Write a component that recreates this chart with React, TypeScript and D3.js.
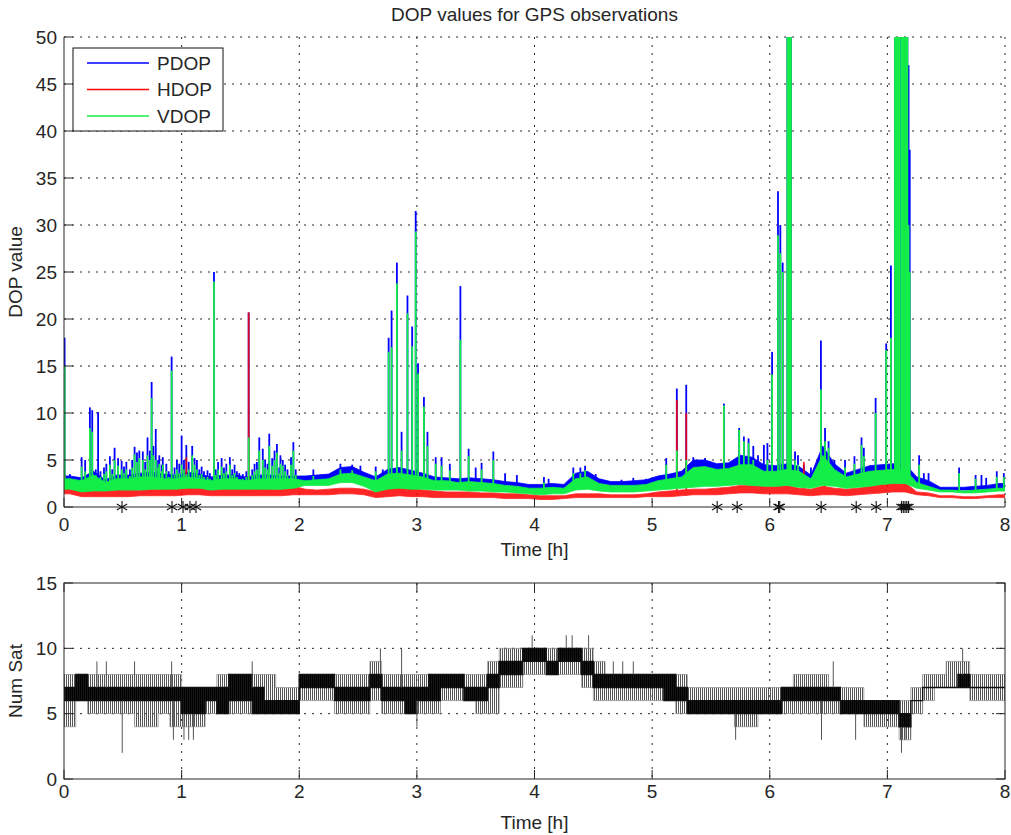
import React from 'react'
import * as d3 from 'd3'

// time axis [h] and tick values
const hourTicks = [0, 1, 2, 3, 4, 5, 6, 7, 8]
const dopTicks = [0, 5, 10, 15, 20, 25, 30, 35, 40, 45, 50]
const satTicks = [0, 5, 10, 15]
const binWidth = 0.1 // hours per band bin

// DOP bands, one value per 0.1 h bin (dense noise envelope)
const hdopLo = [
  1.4, 1.1, 1.1, 1.1, 1.1, 1.1, 1.2, 1.2, 1.2, 1.2,
  1.3, 1.3, 1.2, 1.2, 1.2, 1.2, 1.2, 1.2, 1.2, 1.3,
  1.3, 1.3, 1.3, 1.4, 1.4, 1.3, 1.0, 1.1, 1.2, 1.1,
  1.1, 1.0, 1.0, 1.0, 1.0, 1.0, 1.0, 0.9, 0.9, 0.9,
  0.8, 0.8, 0.9, 1.0, 1.0, 1.0, 1.0, 1.0, 1.0, 1.1,
  1.1, 1.1, 1.2, 1.3, 1.3, 1.3, 1.4, 1.5, 1.5, 1.4,
  1.4, 1.4, 1.3, 1.2, 1.3, 1.3, 1.2, 1.3, 1.4, 1.5,
  1.6, 1.6, 1.3, 1.2, 1.0, 1.0, 0.9, 0.9, 1.0, 1.0,
]
const hdopHi = [
  2.5, 1.7, 1.8, 1.7, 1.8, 1.8, 1.9, 1.9, 1.9, 2.0,
  2.2, 2.2, 2.0, 2.0, 2.0, 1.9, 2.0, 1.9, 1.9, 2.2,
  1.9, 1.8, 1.9, 2.0, 2.0, 1.9, 1.6, 2.0, 2.2, 2.0,
  1.8, 1.7, 1.6, 1.6, 1.6, 1.5, 1.5, 1.4, 1.4, 1.3,
  1.2, 1.2, 1.2, 1.4, 1.4, 1.4, 1.3, 1.3, 1.3, 1.4,
  1.6, 1.7, 1.8, 1.9, 1.9, 2.0, 2.1, 2.3, 2.3, 2.2,
  2.2, 2.3, 2.0, 1.9, 2.2, 2.0, 1.9, 2.0, 2.2, 2.4,
  2.6, 2.6, 1.6, 1.5, 1.2, 1.2, 1.1, 1.1, 1.2, 1.3,
]
const vdopLo = [
  1.9, 1.6, 1.7, 1.7, 1.8, 1.8, 1.8, 1.9, 1.9, 1.9,
  2.0, 2.0, 1.8, 1.9, 1.9, 1.9, 1.9, 1.9, 1.9, 2.0,
  2.3, 2.3, 2.3, 2.6, 2.6, 2.2, 1.6, 1.9, 2.0, 1.9,
  1.9, 1.8, 1.8, 1.8, 1.7, 1.7, 1.6, 1.6, 1.5, 1.4,
  1.3, 1.4, 1.4, 1.8, 1.9, 1.7, 1.6, 1.6, 1.6, 1.7,
  1.8, 1.9, 2.0, 2.1, 2.2, 2.2, 2.3, 2.4, 2.3, 2.2,
  2.2, 2.3, 2.1, 2.0, 2.3, 2.2, 2.0, 2.1, 2.2, 2.4,
  2.5, 2.5, 2.0, 1.8, 1.6, 1.6, 1.5, 1.5, 1.6, 1.7,
]
const vdopHi = [
  3.0, 2.8, 3.4, 2.6, 3.0, 3.0, 3.2, 3.2, 3.0, 3.0,
  3.2, 3.0, 2.8, 3.0, 3.0, 2.8, 3.0, 3.0, 3.0, 3.0,
  2.8, 2.9, 3.0, 3.5, 3.6, 3.2, 2.8, 3.5, 3.6, 3.4,
  3.2, 2.8, 2.8, 2.6, 2.7, 2.6, 2.5, 2.3, 2.2, 2.0,
  2.0, 2.1, 2.0, 3.0, 3.2, 2.5, 2.3, 2.3, 2.3, 2.4,
  2.8, 3.0, 3.2, 4.2, 4.3, 4.0, 4.1, 4.5, 4.5, 3.8,
  3.8, 4.0, 3.8, 3.0, 5.5, 4.0, 3.2, 3.5, 3.8, 3.9,
  4.0, 4.0, 2.6, 2.2, 1.8, 1.8, 1.7, 1.8, 1.9, 2.0,
]
const pdopLo = [
  2.1, 1.8, 1.9, 1.9, 2.0, 2.0, 2.0, 2.1, 2.1, 2.1,
  2.2, 2.2, 2.0, 2.1, 2.1, 2.1, 2.1, 2.1, 2.1, 2.2,
  2.5, 2.5, 2.5, 2.8, 2.8, 2.4, 1.8, 2.1, 2.2, 2.1,
  2.1, 2.0, 2.0, 2.0, 1.9, 1.9, 1.8, 1.8, 1.7, 1.6,
  1.5, 1.6, 1.6, 2.0, 2.1, 1.9, 1.8, 1.8, 1.8, 1.9,
  2.0, 2.1, 2.2, 2.3, 2.4, 2.4, 2.5, 2.6, 2.5, 2.4,
  2.4, 2.5, 2.3, 2.2, 2.5, 2.4, 2.2, 2.3, 2.4, 2.6,
  2.7, 2.7, 2.2, 2.0, 1.8, 1.8, 1.8, 1.8, 1.9, 2.0,
]
const pdopHi = [
  3.3, 3.1, 3.8, 2.9, 3.4, 3.4, 3.6, 3.7, 3.5, 3.4,
  3.7, 3.5, 3.2, 3.4, 3.4, 3.2, 3.4, 3.4, 3.3, 3.3,
  3.3, 3.4, 3.5, 4.2, 4.3, 3.7, 3.2, 4.0, 4.2, 3.9,
  3.6, 3.2, 3.1, 3.0, 3.1, 3.0, 2.9, 2.7, 2.6, 2.4,
  2.4, 2.5, 2.4, 3.6, 3.8, 3.0, 2.7, 2.7, 2.8, 2.9,
  3.3, 3.5, 3.8, 5.0, 5.0, 4.6, 4.7, 5.5, 5.3, 4.5,
  4.4, 4.6, 4.3, 3.4, 6.5, 4.6, 3.6, 4.0, 4.4, 4.5,
  4.6, 4.6, 3.2, 2.8, 2.1, 2.1, 2.1, 2.2, 2.3, 2.5,
]

// single-epoch spikes [time h, peak value]; values above 50 are clipped
const pdopSpikes = [
  [0.005, 18], [0.05, 3.5], [0.08, 3.2], [0.15, 5.3], [0.18, 5.0], [0.22, 10.6], [0.24, 10.3],
  [0.27, 4.0], [0.29, 10.1], [0.31, 3.8], [0.34, 4.2], [0.36, 4.6], [0.39, 5.4], [0.41, 4.0],
  [0.43, 6.3], [0.46, 5.2], [0.49, 4.9], [0.51, 4.3], [0.53, 4.8], [0.56, 4.0], [0.58, 5.0],
  [0.6, 6.4], [0.62, 5.8], [0.64, 6.0], [0.67, 5.9], [0.69, 4.8], [0.71, 7.4], [0.73, 6.0],
  [0.745, 13.3], [0.76, 6.5], [0.78, 8.3], [0.8, 5.0], [0.81, 5.5], [0.83, 4.5], [0.84, 5.3],
  [0.87, 4.6], [0.89, 3.8], [0.915, 16.0], [0.94, 4.2], [0.96, 5.0], [0.98, 4.6], [1.0, 7.6],
  [1.02, 5.0], [1.04, 6.6], [1.06, 4.8], [1.09, 6.5], [1.11, 5.2], [1.13, 5.0], [1.15, 4.0],
  [1.17, 4.3], [1.19, 3.8], [1.22, 3.9], [1.24, 3.6], [1.275, 25.0], [1.29, 4.0], [1.31, 4.8],
  [1.34, 5.2], [1.36, 4.2], [1.38, 4.6], [1.41, 5.3], [1.43, 4.0], [1.45, 4.5], [1.47, 3.8],
  [1.49, 3.6], [1.52, 3.5], [1.55, 3.8], [1.57, 20.7], [1.6, 4.0], [1.62, 4.6], [1.64, 4.8],
  [1.66, 7.4], [1.69, 6.2], [1.71, 5.0], [1.73, 4.6], [1.745, 7.8], [1.77, 5.2], [1.79, 6.0],
  [1.81, 6.7], [1.83, 4.2], [1.84, 5.5], [1.86, 5.0], [1.88, 4.5], [1.9, 4.0], [1.93, 5.3],
  [1.95, 6.9], [1.97, 4.0], [2.12, 4.0], [2.35, 4.6], [2.45, 4.5],
  [2.52, 4.4], [2.65, 4.3], [2.71, 4.0], [2.76, 18.0], [2.785, 20.9], [2.83, 26.0], [2.87, 8.0],
  [2.92, 22.5], [2.96, 19.2], [2.99, 31.5], [3.01, 15.3], [3.06, 11.7], [3.09, 8.0], [3.16, 5.3],
  [3.21, 5.3], [3.28, 4.6], [3.37, 23.5], [3.44, 6.2], [3.5, 4.2], [3.55, 4.7], [3.65, 5.9],
  [3.75, 3.6], [3.85, 3.4], [4.08, 3.2], [4.12, 3.0], [4.33, 4.2], [4.39, 4.2], [4.43, 4.4],
  [4.52, 3.5], [4.74, 2.9], [4.84, 3.1], [4.95, 3.0], [5.12, 5.2], [5.21, 12.6], [5.29, 13.0],
  [5.35, 5.3], [5.45, 5.2], [5.61, 11.0], [5.74, 8.4], [5.78, 7.5], [5.82, 7.3], [5.86, 6.5],
  [5.9, 5.5], [5.95, 6.6], [5.98, 6.8], [6.02, 16.5], [6.07, 33.6], [6.09, 30], [6.11, 26],
  [6.15, 55], [6.16, 55], [6.17, 55], [6.18, 55], [6.215, 5.9], [6.24, 5.5], [6.29, 4.5],
  [6.35, 4.2], [6.435, 17.7], [6.47, 8.4], [6.5, 7.0], [6.55, 5.0], [6.64, 5.0], [6.72, 5.4],
  [6.78, 7.4], [6.8, 6.3], [6.9, 11.6], [6.99, 17.4], [7.03, 25.7], [7.065, 55], [7.075, 55],
  [7.085, 55], [7.095, 55], [7.105, 55], [7.12, 55], [7.13, 55], [7.14, 55], [7.15, 55],
  [7.16, 55], [7.17, 55], [7.18, 47], [7.19, 38], [7.27, 5.5], [7.31, 3.6], [7.35, 3.6],
  [7.61, 4.2], [7.75, 3.4], [7.8, 3.4], [7.84, 3.1], [7.93, 3.8], [7.99, 3.6],
]
const hdopSpikes = [
  [0.005, 3.5], [1.04, 5.3], [1.57, 20.7], [5.21, 11.4], [5.29, 10.0], [6.29, 4.8], [6.47, 5.4],
]
const vdopSpikes = [
  [0.005, 15], [0.05, 3.0], [0.08, 2.9], [0.15, 4.3], [0.18, 3.8], [0.22, 8.4], [0.24, 8.0],
  [0.27, 3.4], [0.29, 3.0], [0.31, 3.2], [0.34, 3.5], [0.36, 3.8], [0.39, 4.5], [0.41, 3.5],
  [0.43, 5.0], [0.46, 4.4], [0.49, 4.0], [0.51, 3.6], [0.53, 4.0], [0.56, 3.3], [0.58, 4.2],
  [0.6, 5.6], [0.62, 4.8], [0.64, 5.2], [0.67, 5.0], [0.69, 4.0], [0.71, 5.5], [0.73, 5.0],
  [0.745, 11.6], [0.76, 5.5], [0.78, 5.0], [0.8, 4.2], [0.81, 4.6], [0.83, 3.8], [0.84, 4.5],
  [0.87, 3.8], [0.89, 3.2], [0.915, 14.5], [0.94, 3.5], [0.96, 4.0], [0.98, 3.6], [1.0, 4.5],
  [1.02, 4.0], [1.04, 3.5], [1.06, 4.0], [1.09, 5.5], [1.11, 4.5], [1.13, 4.0], [1.15, 3.4],
  [1.17, 3.5], [1.19, 3.2], [1.22, 3.2], [1.24, 3.0], [1.275, 24.0], [1.29, 3.4], [1.31, 4.0],
  [1.34, 4.3], [1.36, 3.6], [1.38, 3.8], [1.41, 4.5], [1.43, 3.4], [1.45, 3.6], [1.47, 3.2],
  [1.52, 3.0], [1.55, 3.2], [1.57, 7.4], [1.6, 3.4], [1.62, 3.8], [1.64, 4.0], [1.66, 6.0],
  [1.69, 5.0], [1.71, 4.2], [1.73, 4.0], [1.745, 6.5], [1.77, 4.4], [1.79, 5.0], [1.81, 5.8],
  [1.83, 3.6], [1.84, 4.6], [1.86, 4.4], [1.88, 3.8], [1.9, 3.4], [1.93, 4.5], [1.95, 6.0],
  [1.97, 3.4], [2.12, 3.3], [2.35, 4.0], [2.45, 3.9], [2.65, 3.8],
  [2.76, 16.5], [2.785, 17.0], [2.83, 23.8], [2.87, 6.0], [2.92, 20.6], [2.96, 17.1],
  [2.99, 29.3], [3.01, 14.2], [3.06, 10.7], [3.09, 6.5], [3.16, 4.6], [3.21, 4.4], [3.28, 3.9],
  [3.37, 17.8], [3.44, 5.4], [3.55, 4.0], [3.65, 5.0], [4.08, 2.6], [4.33, 3.6], [4.39, 3.6],
  [4.43, 3.9], [5.12, 4.5], [5.21, 6.0], [5.29, 5.0], [5.61, 10.8], [5.74, 8.2], [5.78, 7.0],
  [5.82, 6.8], [5.86, 5.0], [5.98, 5.0], [6.02, 14.1], [6.07, 28.9], [6.09, 27], [6.11, 25],
  [6.15, 55], [6.16, 55], [6.17, 55], [6.18, 55], [6.215, 5.0], [6.24, 4.5], [6.435, 12.5],
  [6.47, 7.0], [6.5, 6.3], [6.64, 4.2], [6.72, 4.6], [6.78, 6.6], [6.8, 5.4], [6.9, 10.0],
  [6.99, 16.7], [7.03, 18], [7.065, 55], [7.075, 55], [7.085, 55], [7.095, 55], [7.105, 55],
  [7.12, 55], [7.13, 55], [7.14, 55], [7.15, 55], [7.16, 55], [7.17, 55], [7.18, 30],
  [7.19, 25], [7.27, 4.5], [7.61, 3.6], [7.75, 3.0], [7.93, 3.2], [7.99, 3.2],
]

// epochs flagged with * on the time axis
const flagTimes = [
  0.493, 0.918, 1.012, 1.071, 1.122, 5.553, 5.723, 6.075, 6.085, 6.437, 6.735, 6.905,
  7.12, 7.135, 7.15, 7.165, 7.18,
]

// number of satellites per 0.1 h bin: full range and dense core
const satLo = [
  4, 6, 5, 5, 5, 5, 4, 4, 5, 4,
  4, 4, 5, 5, 5, 5, 5, 5, 5, 5,
  6, 6, 6, 5, 5, 5, 6, 5, 5, 5,
  5, 5, 6, 6, 6, 5, 5, 7, 7, 8,
  8, 8, 8, 8, 7, 6, 6, 6, 6, 6,
  6, 6, 5, 5, 5, 5, 5, 4, 4, 5,
  5, 5, 5, 5, 5, 5, 5, 5, 4, 4,
  4, 3, 5, 6, 7, 7, 7, 6, 6, 6,
]
const satHi = [
  8, 8, 8, 8, 8, 8, 8, 8, 8, 8,
  7, 7, 7, 8, 8, 8, 8, 8, 7, 7,
  8, 8, 8, 8, 8, 8, 9, 8, 8, 8,
  8, 8, 8, 8, 8, 8, 9, 10, 10, 10,
  10, 10, 10, 10, 10, 9, 8, 8, 8, 8,
  8, 8, 8, 7, 7, 7, 7, 7, 7, 7,
  7, 7, 8, 8, 8, 7, 7, 7, 6, 6,
  6, 6, 7, 8, 8, 9, 9, 8, 8, 8,
]
const satCoreLo = [
  6, 6, 6, 6, 6, 6, 6, 6, 6, 6,
  5, 5, 6, 5, 6, 6, 5, 5, 5, 5,
  7, 7, 7, 6, 6, 6, 7, 6, 6, 5,
  6, 6, 7, 7, 6, 6, 7, 8, 8, 9,
  9, 8, 9, 9, 8, 7, 7, 7, 7, 7,
  7, 6, 6, 5, 5, 5, 5, 5, 5, 5,
  5, 6, 6, 6, 6, 6, 5, 5, 5, 5,
  5, 4, 6, 7, 7, 7, 7, 7, 7, 7,
]
const satCoreHi = [
  7, 8, 7, 7, 7, 7, 7, 7, 7, 7,
  7, 7, 7, 7, 8, 8, 7, 6, 6, 6,
  8, 8, 8, 7, 7, 7, 8, 7, 7, 7,
  7, 8, 8, 8, 7, 7, 8, 9, 9, 10,
  10, 9, 10, 10, 9, 8, 8, 8, 8, 8,
  8, 8, 7, 6, 6, 6, 6, 6, 6, 6,
  6, 7, 7, 7, 7, 7, 6, 6, 6, 6,
  6, 5, 6, 7, 7, 7, 8, 7, 7, 7,
]
const satSpikes = [
  [0.28, 9], [0.36, 9], [0.495, 2], [0.6, 9], [0.915, 9], [0.93, 3], [1.02, 3], [1.06, 3],
  [1.1, 3], [1.6, 9], [2.69, 10], [2.87, 10], [3.0, 4], [3.98, 11], [4.27, 11], [4.32, 11],
  [4.46, 11], [4.67, 9], [4.75, 9], [4.84, 9], [5.71, 3], [6.44, 3], [6.54, 9], [6.73, 3],
  [7.12, 2], [7.15, 3], [7.64, 10],
]

const series = [
  { name: 'PDOP', color: '#0000ff', lo: pdopLo, hi: pdopHi, spikes: pdopSpikes, op: 1 },
  { name: 'HDOP', color: '#ff0000', lo: hdopLo, hi: hdopHi, spikes: hdopSpikes, op: 0.85 },
  { name: 'VDOP', color: '#14ee48', lo: vdopLo, hi: vdopHi, spikes: vdopSpikes, op: 1 },
]

const font = '"Liberation Sans", Arial, Helvetica, sans-serif'
const ink = '#262626'

export default function App() {
  const left = 64, right = 1005
  const top1 = 37, bot1 = 507
  const top2 = 583, bot2 = 779
  const x = d3.scaleLinear().domain([0, 8]).range([left, right])
  const yDop = d3.scaleLinear().domain([0, 50]).range([bot1, top1])
  const ySat = d3.scaleLinear().domain([0, 15]).range([bot2, top2])
  const binOf = (t: number) => Math.min(hdopLo.length - 1, Math.floor(t / binWidth))

  const bandPts = (lo: number[], hi: number[]) => [
    { t: 0, lo: lo[0], hi: hi[0] },
    ...lo.map((v, i) => ({ t: (i + 0.5) * binWidth, lo: v, hi: hi[i] })),
    { t: 8, lo: lo[lo.length - 1], hi: hi[hi.length - 1] },
  ]
  const dopArea = d3.area<any>().x(d => x(d.t)).y0(d => yDop(d.lo)).y1(d => yDop(d.hi))

  const stepPts = (lo: number[], hi: number[]) => [
    ...lo.map((v, i) => ({ t: i * binWidth, lo: v, hi: hi[i] })),
    { t: 8, lo: lo[lo.length - 1], hi: hi[hi.length - 1] },
  ]
  const satArea = d3.area<any>().curve(d3.curveStepAfter)
    .x(d => x(d.t)).y0(d => ySat(d.lo)).y1(d => ySat(d.hi))

  const star = d3.symbol(d3.symbolAsterisk, 100)()
  const grid = { stroke: ink, strokeWidth: 1, strokeDasharray: '2,6' }
  const tickLen = 9

  return (
    <svg width={1011} height={835} style={{ position: 'absolute', left: 0, top: 0, background: '#fff' }}
      fontFamily={font}>
      <defs>
        <clipPath id="clipDop"><rect x={left} y={top1} width={right - left} height={bot1 - top1} /></clipPath>
        <clipPath id="clipSat"><rect x={left} y={top2} width={right - left} height={bot2 - top2} /></clipPath>
        <pattern id="vhatch" width={2} height={10} patternUnits="userSpaceOnUse">
          <rect x={0} y={0} width={1} height={10} fill="#555" />
        </pattern>
        <pattern id="vcore" width={2} height={10} patternUnits="userSpaceOnUse">
          <rect x={0} y={0} width={2} height={10} fill="#222" />
          <rect x={0} y={0} width={1.4} height={10} fill="#000" />
        </pattern>
      </defs>

      <text x={(left + right) / 2} y={14} textAnchor="middle" dominantBaseline="central" fontSize={19} fill={ink}>
        DOP values for GPS observations
      </text>

      {/* top panel grid */}
      {hourTicks.slice(1).map(h => (
        <line key={'gx' + h} x1={x(h)} x2={x(h)} y1={top1} y2={bot1} {...grid} />
      ))}
      {dopTicks.slice(1).map(v => (
        <line key={'gy' + v} x1={left} x2={right} y1={yDop(v)} y2={yDop(v)} {...grid} />
      ))}

      <g clipPath="url(#clipDop)">
        {series.map(s => (
          <g key={s.name} opacity={s.op}>
            <path d={dopArea(bandPts(s.lo, s.hi)) || ''} fill={s.color} stroke={s.color} strokeWidth={0.8} />
            {s.spikes.map(([t, v], i) => (
              <line key={i} x1={x(t)} x2={x(t)} y1={yDop(s.lo[binOf(t)])} y2={yDop(v)}
                stroke={s.color} strokeWidth={1.8} />
            ))}
          </g>
        ))}
      </g>

      {/* top panel axes */}
      <line x1={left} x2={left} y1={top1} y2={bot1} stroke={ink} />
      <line x1={left} x2={right} y1={bot1} y2={bot1} stroke={ink} />
      {dopTicks.map(v => (
        <g key={'ty' + v}>
          <line x1={left} x2={left + tickLen} y1={yDop(v)} y2={yDop(v)} stroke={ink} />
          <text x={57} y={yDop(v)} textAnchor="end" dominantBaseline="central" fontSize={19} fill={ink}>{v}</text>
        </g>
      ))}
      {hourTicks.map(h => (
        <g key={'tx' + h}>
          <line x1={x(h)} x2={x(h)} y1={bot1} y2={bot1 - tickLen} stroke={ink} />
          <text x={x(h)} y={524} textAnchor="middle" dominantBaseline="central" fontSize={19} fill={ink}>{h}</text>
        </g>
      ))}
      {flagTimes.map((t, i) => (
        <path key={'f' + i} d={star || ''} transform={`translate(${x(t)},${yDop(0)})`}
          fill="none" stroke="#111" strokeWidth={1.1} />
      ))}
      <text x={(left + right) / 2} y={549} textAnchor="middle" dominantBaseline="central" fontSize={19} fill={ink}>Time [h]</text>
      <text transform={`translate(15,${(top1 + bot1) / 2}) rotate(-90)`} textAnchor="middle"
        dominantBaseline="central" fontSize={19} fill={ink}>DOP value</text>

      {/* legend */}
      <g>
        <rect x={73} y={48} width={150} height={83} fill="#fff" stroke="#111" />
        {series.map((s, i) => (
          <g key={'lg' + s.name}>
            <line x1={87} x2={149} y1={63 + i * 26.5} y2={63 + i * 26.5} stroke={s.color} strokeWidth={1.5} />
            <text x={157} y={63 + i * 26.5} dominantBaseline="central" fontSize={19} fill={ink}>{s.name}</text>
          </g>
        ))}
      </g>

      {/* bottom panel */}
      {hourTicks.slice(1, -1).map(h => (
        <line key={'sx' + h} x1={x(h)} x2={x(h)} y1={top2} y2={bot2} {...grid} />
      ))}
      {satTicks.slice(1, -1).map(v => (
        <line key={'sy' + v} x1={left} x2={right} y1={ySat(v)} y2={ySat(v)} {...grid} />
      ))}
      <g clipPath="url(#clipSat)">
        <path d={satArea(stepPts(satLo, satHi)) || ''} fill="url(#vhatch)" stroke="#888" strokeWidth={0.7} />
        <path d={satArea(stepPts(satCoreLo, satCoreHi)) || ''} fill="url(#vcore)" stroke="#111" strokeWidth={1.4} />
        {satSpikes.map(([t, v], i) => {
          const b = binOf(t)
          const base = v > satCoreHi[b] ? satCoreHi[b] : satCoreLo[b]
          return <line key={i} x1={x(t)} x2={x(t)} y1={ySat(base)} y2={ySat(v)} stroke="#555" strokeWidth={1} />
        })}
      </g>
      <rect x={left} y={top2} width={right - left} height={bot2 - top2} fill="none" stroke={ink} />
      {satTicks.map(v => (
        <g key={'ts' + v}>
          <line x1={left} x2={left + tickLen} y1={ySat(v)} y2={ySat(v)} stroke={ink} />
          <line x1={right} x2={right - tickLen} y1={ySat(v)} y2={ySat(v)} stroke={ink} />
          <text x={57} y={ySat(v)} textAnchor="end" dominantBaseline="central" fontSize={19} fill={ink}>{v}</text>
        </g>
      ))}
      {hourTicks.map(h => (
        <g key={'tb' + h}>
          <line x1={x(h)} x2={x(h)} y1={bot2} y2={bot2 - tickLen} stroke={ink} />
          <line x1={x(h)} x2={x(h)} y1={top2} y2={top2 + tickLen} stroke={ink} />
          <text x={x(h)} y={791} textAnchor="middle" dominantBaseline="central" fontSize={19} fill={ink}>{h}</text>
        </g>
      ))}
      <text x={(left + right) / 2} y={822} textAnchor="middle" dominantBaseline="central" fontSize={19} fill={ink}>Time [h]</text>
      <text transform={`translate(15,${(top2 + bot2) / 2}) rotate(-90)`} textAnchor="middle"
        dominantBaseline="central" fontSize={19} fill={ink}>Num Sat</text>
    </svg>
  )
}
